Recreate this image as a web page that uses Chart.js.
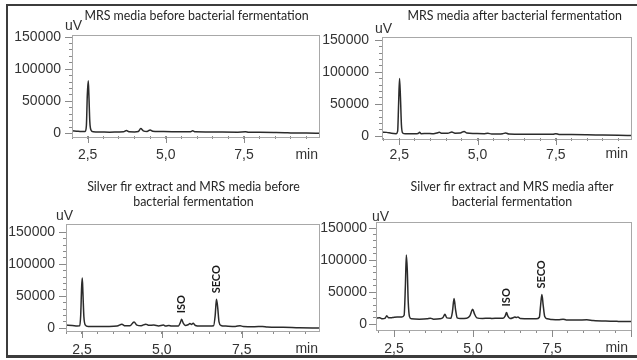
<!DOCTYPE html>
<html>
<head>
<meta charset="utf-8">
<script src="https://cdn.jsdelivr.net/npm/chart.js@4.4.1/dist/chart.umd.min.js"></script>
<style>
  html, body { margin: 0; padding: 0; background: #fff; overflow: hidden; }
  body { width: 637px; height: 360px; position: relative; }
  canvas { position: absolute; }
  #frame { position: absolute; left: 6px; top: 4px; width: 700px; height: 349px;
           border: 2px solid #3c3c3c; border-bottom-width: 3px; }
</style>
</head>
<body>
<div id="frame"></div>
<canvas id="tl" width="393" height="180" style="left:0px;top:0px"></canvas>
<canvas id="tr" width="398" height="180" style="left:316px;top:0px"></canvas>
<canvas id="bl" width="387" height="190" style="left:0px;top:170px"></canvas>
<canvas id="br" width="400" height="190" style="left:312px;top:170px"></canvas>
<script>
// tick values shared by all four chromatograms
const xTicks = [2, 2.5, 3, 3.5, 4, 4.5, 5, 5.5, 6, 6.5, 7, 7.5, 8, 8.5, 9, 9.5, 10];
const xMajor = [2.5, 5, 7.5, 10];
const xLabels = {2.5: '2,5', 5: '5,0', 7.5: '7,5'};
const yTicks = [0, 10000, 20000, 30000, 40000, 50000, 60000, 70000, 80000, 90000,
                100000, 110000, 120000, 130000, 140000, 150000];
const yMajor = [0, 50000, 100000, 150000];

// MRS media before bacterial fermentation
const tlTime = [2.0, 2.15, 2.3, 2.42, 2.46, 2.49, 2.52, 2.54, 2.57, 2.61, 2.68, 2.9, 3.2, 3.5, 3.65, 3.74,
                3.82, 4.0, 4.12, 4.2, 4.28, 4.4, 4.5, 4.58, 4.8, 5.2, 5.6, 5.78, 5.86, 5.94, 6.3, 6.8,
                7.3, 7.55, 7.65, 8.0, 8.5, 8.8, 9.0, 9.5, 9.9];
const tlUv = [4000, 3500, 3000, 3000, 12000, 60000, 82000, 60000, 18000, 5000, 2500, 2200, 2000, 2300, 2500, 4500,
              2500, 2300, 3000, 7500, 4000, 3000, 5500, 3500, 3000, 2700, 2500, 2600, 4000, 2500, 2300, 2100,
              2000, 2500, 1900, 1800, 1500, 1200, 800, 500, 400];

// MRS media after bacterial fermentation
const trTime = [1.95, 2.1, 2.25, 2.4, 2.45, 2.48, 2.51, 2.54, 2.57, 2.61, 2.7, 3.0, 3.1, 3.15, 3.2, 3.4,
                3.55, 3.7, 3.78, 3.86, 4.05, 4.18, 4.28, 4.45, 4.57, 4.66, 4.9, 5.2, 5.33, 5.45, 5.7, 5.8,
                5.9, 6.0, 6.5, 7.0, 7.4, 7.5, 7.6, 8.0, 8.5, 9.0, 9.5, 9.9];
const trUv = [6500, 6000, 4500, 4000, 8000, 50000, 90000, 60000, 18000, 5000, 3800, 3700, 4200, 6000, 4000, 4300,
              3800, 5000, 6000, 4500, 4500, 6500, 4800, 5000, 7500, 5000, 4200, 3800, 4500, 3600, 3500, 4000,
              5000, 3500, 3200, 3000, 3000, 4000, 2800, 2600, 2300, 1800, 1400, 1200];

// Silver fir extract and MRS media before bacterial fermentation
const blTime = [2.0, 2.2, 2.35, 2.43, 2.46, 2.49, 2.51, 2.53, 2.56, 2.6, 2.7, 3.0, 3.3, 3.6, 3.75, 3.85,
                4.0, 4.13, 4.22, 4.35, 4.5, 4.58, 4.75, 4.9, 5.05, 5.12, 5.22, 5.3, 5.52, 5.58, 5.62, 5.67,
                5.74, 5.82, 5.88, 5.93, 5.98, 6.05, 6.2, 6.5, 6.62, 6.67, 6.71, 6.75, 6.79, 6.85, 7.0, 7.3,
                7.45, 7.55, 7.9, 8.15, 8.3, 8.8, 9.3, 9.92];
const blUv = [5000, 4500, 3800, 4000, 20000, 65000, 78500, 55000, 18000, 5500, 3000, 2800, 3000, 3500, 6300, 4000,
              4000, 10000, 5000, 4000, 6500, 4800, 5000, 3800, 5000, 3500, 4500, 3500, 3800, 9000, 14000, 8000,
              4500, 5500, 7500, 6000, 8000, 4500, 3500, 3500, 4000, 20000, 45300, 32000, 10000, 4500, 3500, 3000,
              4000, 2800, 2500, 3000, 2000, 1500, 800, 300];
const blPeakNames = ['ISO', 'SECO'];
const blPeakTimes = [5.62, 6.71];
const blPeakUv = [14000, 45300];

// Silver fir extract and MRS media after bacterial fermentation
const brTime = [1.93, 2.05, 2.13, 2.22, 2.27, 2.33, 2.45, 2.6, 2.75, 2.82, 2.86, 2.89, 2.92, 2.95, 2.99, 3.05,
                3.3, 3.55, 3.65, 3.75, 3.95, 4.05, 4.11, 4.17, 4.3, 4.35, 4.4, 4.45, 4.5, 4.6, 4.8, 4.9,
                4.96, 4.99, 5.04, 5.12, 5.3, 5.5, 5.6, 5.8, 5.95, 6.02, 6.06, 6.1, 6.17, 6.28, 6.32, 6.38,
                6.42, 6.5, 6.8, 7.0, 7.1, 7.14, 7.18, 7.22, 7.27, 7.35, 7.5, 7.7, 7.85, 7.95, 8.3, 8.6,
                8.8, 9.2, 9.6, 10.0];
const brUv = [9500, 10000, 8500, 9500, 13500, 10000, 10500, 11500, 11500, 14000, 60000, 108000, 85000, 35000, 12000, 8500,
              8000, 8500, 9500, 8000, 8500, 10500, 15500, 10000, 9500, 20000, 40000, 22000, 10000, 9000, 9500, 13000,
              21000, 23500, 17000, 10000, 9000, 9500, 9000, 9500, 9500, 13000, 18500, 13000, 9000, 10500, 11500, 10500,
              11500, 9000, 8500, 8500, 11000, 30000, 46500, 30000, 12000, 8500, 7500, 7000, 8000, 6800, 6500, 7000,
              6000, 5000, 4500, 4200];
const brPeakNames = ['ISO', 'SECO'];
const brPeakTimes = [6.06, 7.18];
const brPeakUv = [18500, 46500];

const TICK_FONT = '14px "Liberation Sans", Arial, sans-serif';

const decor = {
  id: 'decor',
  afterDraw(chart, args, o) {
    const {ctx, chartArea: a, scales: {x, y}} = chart;
    ctx.save();
    ctx.strokeStyle = '#a8a8a8';
    ctx.lineWidth = 1;
    ctx.strokeRect(Math.round(a.left) + 0.5, Math.round(a.top) + 0.5,
                   Math.round(a.right - a.left), Math.round(a.bottom - a.top));
    // labelled ticks are a bit longer than the minor ones
    ctx.strokeStyle = '#8a8a8a';
    ctx.beginPath();
    xMajor.forEach(v => {
      if (v < x.min || v > x.max + 1e-9) return;
      const p = Math.round(x.getPixelForValue(v)) + 0.5;
      ctx.moveTo(p, a.bottom);
      ctx.lineTo(p, a.bottom + 7);
    });
    yMajor.forEach(v => {
      const p = Math.round(y.getPixelForValue(v)) + 0.5;
      ctx.moveTo(a.left - 7, p);
      ctx.lineTo(a.left, p);
    });
    ctx.stroke();

    ctx.fillStyle = '#333';
    ctx.font = TICK_FONT;
    ctx.textBaseline = 'middle';
    ctx.textAlign = 'left';
    ctx.fillText('uV', a.left + o.uvDx, a.top + o.uvDy);
    ctx.textAlign = 'right';
    ctx.fillText('min', a.right + o.minDx, a.bottom + o.minDy);

    ctx.font = 'bold 11px Lato, sans-serif';
    ctx.fillStyle = '#1a1a1a';
    (o.names || []).forEach((name, i) => {
      ctx.save();
      ctx.translate(x.getPixelForValue(o.times[i]), y.getPixelForValue(o.heights[i]) - 6);
      ctx.rotate(-Math.PI / 2);
      ctx.textAlign = 'left';
      ctx.fillText(name, 0, 0);
      ctx.restore();
    });
    ctx.restore();
  }
};

function makePanel(id, title, time, uv, g, peaks) {
  new Chart(document.getElementById(id), {
    type: 'line',
    data: {
      datasets: [{
        data: time.map((t, i) => ({x: t, y: uv[i]})),
        borderColor: '#2b2b2b',
        borderWidth: 1.5,
        pointRadius: 0,
        cubicInterpolationMode: 'monotone',
        fill: false
      }]
    },
    options: {
      responsive: false,
      animation: false,
      devicePixelRatio: 1,
      layout: {padding: g.pad},
      scales: {
        x: {
          type: 'linear',
          min: g.xmin, max: g.xmax,
          afterBuildTicks: s => {
            s.ticks = xTicks.filter(v => v >= g.xmin && v <= g.xmax + 1e-9).map(v => ({value: v}));
          },
          afterFit: s => { s.height = g.xh; },
          border: {display: false},
          grid: {drawOnChartArea: false, tickLength: 3, color: '#8a8a8a'},
          ticks: {
            autoSkip: false, maxRotation: 0, padding: g.xpad,
            color: '#333', font: {family: '"Liberation Sans", Arial, sans-serif', size: 14},
            callback: v => xLabels[v] || ''
          }
        },
        y: {
          min: g.ymin, max: g.ymax,
          afterBuildTicks: s => { s.ticks = yTicks.map(v => ({value: v})); },
          afterFit: s => { s.width = g.yw; },
          border: {display: false},
          grid: {drawOnChartArea: false, tickLength: 3, color: '#8a8a8a'},
          ticks: {
            autoSkip: false, padding: g.ypad,
            color: '#333', font: {family: '"Liberation Sans", Arial, sans-serif', size: 14},
            callback: v => (v % 50000 === 0 ? String(v) : '')
          }
        },
        // empty right-hand box so the title centres where the original has it
        spacer: {
          type: 'linear', position: 'right', display: true,
          afterFit: s => { s.width = g.rw; },
          border: {display: false}, grid: {display: false}, ticks: {display: false}
        }
      },
      plugins: {
        legend: {display: false},
        tooltip: {enabled: false},
        title: {
          display: true, text: title, color: '#262626',
          font: {family: 'Lato, sans-serif', size: 12.4, weight: 'normal', lineHeight: 1.25},
          padding: g.tpad
        },
        decor: Object.assign({uvDx: g.uvDx, uvDy: g.uvDy, minDx: g.minDx, minDy: g.minDy}, peaks || {})
      }
    },
    plugins: [decor]
  });
}

makePanel('tl', 'MRS media before bacterial fermentation', tlTime, tlUv, {
  pad: {left: 10, right: 10, top: 0, bottom: 14}, yw: 62, rw: 64, xh: 30,
  xmin: 2.0, xmax: 9.9, ymin: -4000, ymax: 154000, xpad: 8, ypad: 8,
  tpad: {top: 8, bottom: 11}, uvDx: -7, uvDy: -8, minDx: -1, minDy: 19
});
makePanel('tr', 'MRS media after bacterial fermentation', trTime, trUv, {
  pad: {left: 4, right: 4.6, top: 0, bottom: 12}, yw: 62, rw: 78.4, xh: 30,
  xmin: 1.95, xmax: 9.9, ymin: -2800, ymax: 155800, xpad: 6, ypad: 10,
  tpad: {top: 8, bottom: 13}, uvDx: -7, uvDy: -7, minDx: -3, minDy: 16
});
makePanel('bl', ['Silver fir extract and MRS media before', 'bacterial fermentation'], blTime, blUv, {
  pad: {left: 4, right: 4, top: 0, bottom: 3}, yw: 62, rw: 64, xh: 26,
  xmin: 2.0, xmax: 9.92, ymin: -4200, ymax: 163000, xpad: 8, ypad: 8,
  tpad: {top: 9, bottom: 14}, uvDx: -10, uvDy: -8, minDx: -1, minDy: 18
}, {names: blPeakNames, times: blPeakTimes, heights: blPeakUv});
makePanel('br', ['Silver fir extract and MRS media after', 'bacterial fermentation'], brTime, brUv, {
  pad: {left: 2, right: 2, top: 0, bottom: 4}, yw: 62, rw: 79, xh: 26,
  xmin: 1.93, xmax: 10.0, ymin: -8900, ymax: 159400, xpad: 8, ypad: 6,
  tpad: {top: 9, bottom: 12}, uvDx: -4, uvDy: -5, minDx: -3, minDy: 18
}, {names: brPeakNames, times: brPeakTimes, heights: brPeakUv});
</script>
</body>
</html>
